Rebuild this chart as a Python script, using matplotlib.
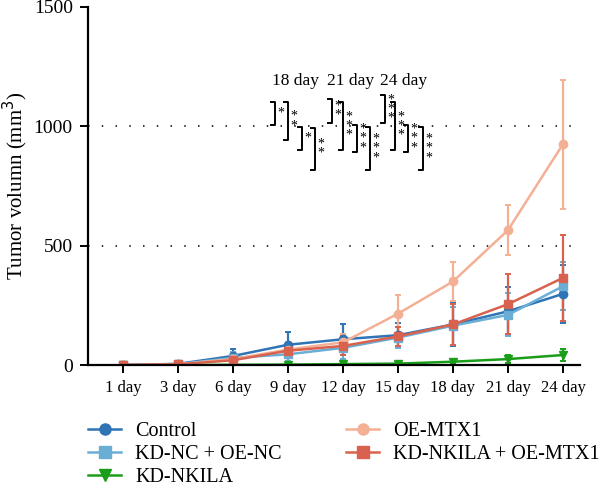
import matplotlib
matplotlib.use('Agg')
import matplotlib.pyplot as plt
from matplotlib.lines import Line2D
import numpy as np

plt.rcParams['font.family'] = ['Liberation Serif', 'DejaVu Serif']

days = ['1 day', '3 day', '6 day', '9 day', '12 day', '15 day', '18 day', '21 day', '24 day']

control = [0, 5, 38, 85, 108, 125, 170, 225, 298]
control_err = [0, 5, 30, 55, 65, 50, 90, 100, 120]
kd_nc = [0, 4, 30, 45, 72, 115, 165, 210, 330]
kd_nc_err = [0, 4, 25, 30, 45, 45, 80, 90, 100]
kd_nkila = [0, 0, 1, 2, 4, 6, 14, 25, 42]
kd_nkila_err = [0, 0, 1, 2, 3, 4, 8, 15, 25]
oe_mtx1 = [0, 3, 25, 65, 95, 215, 350, 565, 925]
oe_mtx1_err = [0, 3, 15, 30, 35, 80, 80, 105, 270]
kd_oe = [0, 3, 20, 60, 80, 120, 170, 255, 365]
kd_oe_err = [0, 3, 15, 30, 40, 40, 85, 125, 180]

series = [
    ('Control', control, control_err, '#2f74b5', 'o'),
    ('KD-NC + OE-NC', kd_nc, kd_nc_err, '#6aaed6', 's'),
    ('KD-NKILA', kd_nkila, kd_nkila_err, '#1a9e1a', 'v'),
    ('OE-MTX1', oe_mtx1, oe_mtx1_err, '#f4b095', 'o'),
    ('KD-NKILA + OE-MTX1', kd_oe, kd_oe_err, '#d9624f', 's'),
]

sig_days = ['18 day', '21 day', '24 day']
# (x, top, bottom, stars) for each bracket
brackets = [
    [(2.76, 1101, 1006, 1), (3.0, 1101, 943, 2), (3.25, 997, 901, 1), (3.49, 993, 817, 2)],
    [(3.8, 1115, 1014, 2), (4.0, 1101, 901, 3), (4.25, 1006, 892, 3), (4.49, 997, 817, 3)],
    [(4.76, 1131, 1014, 3), (4.95, 1101, 901, 3), (5.18, 1006, 892, 3), (5.45, 997, 817, 3)],
]
label_x = [3.13, 4.13, 5.1]

fig = plt.figure(figsize=(6, 4.9), dpi=100)
ax = fig.add_axes([0.1467, 0.255, 0.82, 0.731])

x = np.arange(len(days))
handles = []
for name, vals, err, col, mk in series:
    ax.errorbar(x, vals, yerr=err, color=col, marker=mk, markersize=6, lw=1.8,
                capsize=2, elinewidth=1.6, capthick=1.4)
    handles.append(Line2D([], [], color=col, marker=mk, markersize=8, lw=1.8, label=name))

for yv in [500, 1000]:
    ax.plot([-0.636, 8.31], [yv, yv], color='black', lw=1.1, linestyle=(0, (1, 8)), zorder=0)

for lx, lab, grp in zip(label_x, sig_days, brackets):
    ax.text(lx, 1190, lab, ha='center', va='center', fontsize=12.5)
    for bx, top, bot, n in grp:
        ax.plot([bx - 0.07, bx, bx, bx - 0.07], [top, top, bot, bot], color='black', lw=1.4)
        mid = (top + bot) / 2
        stars = '\n'.join(['*'] * n)
        ax.text(bx + 0.11, mid, stars, ha='center', va='center', fontsize=10,
                linespacing=0.62)

ax.set_xlim(-0.636, 8.31)
ax.set_ylim(0, 1500)
ax.set_yticks([0, 500, 1000, 1500])
ax.set_xticks(x)
ax.set_xticklabels(days)
ax.tick_params(axis='x', labelsize=12, width=1.4, length=6, pad=5)
ax.tick_params(axis='y', labelsize=14, width=1.4, length=6, pad=5)
ax.set_ylabel('Tumor volumn (mm$^3$)', fontsize=15)
ax.yaxis.set_label_coords(-0.118, 0.5)
ax.spines['top'].set_visible(False)
ax.spines['right'].set_visible(False)
ax.spines['left'].set_linewidth(1.6)
ax.spines['bottom'].set_linewidth(1.6)

fig.legend(handles=handles, loc='upper left', bbox_to_anchor=(0.1467, 0.139), ncol=2,
           frameon=False, fontsize=14.5, handlelength=1.64, handletextpad=0.7,
           columnspacing=3.2, labelspacing=0.2, borderaxespad=0, borderpad=0)

fig.savefig('out.png', dpi=100)
